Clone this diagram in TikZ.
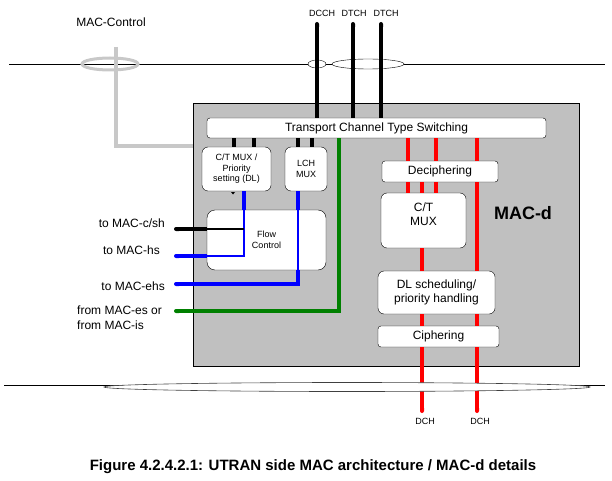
\documentclass[tikz,border=0pt]{standalone}
\usepackage{fontspec}
\setmainfont{Liberation Sans}
\usetikzlibrary{positioning,arrows.meta}
\definecolor{macgray}{RGB}{192,192,192}
\definecolor{ctrlgray}{RGB}{200,200,200}
\definecolor{macgreen}{RGB}{0,128,0}
\newcommand{\topy}{64}
\newcommand{\boty}{385}

\begin{document}
\begin{tikzpicture}[x=1pt,y=-1pt,
    box/.style={draw,fill=white,rounded corners=#1,inner sep=0pt,align=center,font=\fontsize{12}{14}\selectfont},
    sbox/.style={box=#1,font=\fontsize{9}{10.5}\selectfont},
    lbl/.style={inner sep=0pt,font=\fontsize{12}{15}\selectfont},
    slbl/.style={inner sep=0pt,font=\fontsize{9}{10}\selectfont},
    chan/.style={line width=4pt},
    fine/.style={line width=1.2pt}]
    \useasboundingbox (0,0) rectangle (612,481);
    \draw (9,\topy) -- (605,\topy);
    \draw (4,\boty) -- (605,\boty);

    \node[draw,fill=macgray,minimum width=386pt,minimum height=263pt,inner sep=0pt] (macd) at (386,234.5) {};
    \node[font=\fontsize{18}{20}\selectfont\bfseries] (macdlbl) at (523,213) {MAC-d};

    % control channel
    \node[lbl] (mctrl) at (111,22) {MAC-Control};
    \coordinate (ctrltop) at (116,47);
    \coordinate (ctrlbend) at (116,146);
    \draw[ctrlgray,line width=3pt] (110,\topy) ellipse (28pt and 6pt);
    \draw[ctrlgray,chan] (ctrltop) -- (ctrlbend) -- (ctrlbend -| macd.west);

    % logical channels
    \node[slbl] (dcch) at (322,13) {DCCH};
    \node[slbl] (dtcha) at (354,13) {DTCH};
    \node[slbl] (dtchb) at (386,13) {DTCH};
    \coordinate (dccht) at (317,22);
    \coordinate (dtchat) at (353,22);
    \coordinate (dtchbt) at (381,22);
    \draw[fill=white] (317,\topy) ellipse (9pt and 4pt);
    \draw[fill=white] (368,\topy) ellipse (36pt and 5pt);

    \node[box=3pt,minimum width=339pt,minimum height=20pt] (tcts) at (376.5,128) {Transport Channel Type Switching};
    \foreach \c in {dccht,dtchat,dtchbt}
    {
        \draw[chan,{Round Cap[]}-] (\c) -- (\c |- tcts.north);
    }

    % left part
    \node[sbox=6pt,minimum width=69pt,minimum height=44pt] (ctmuxdl) at (236.5,169) {C/T MUX /\\Priority\\setting (DL)};
    \node[sbox=6pt,minimum width=42pt,minimum height=44pt] (lchmux) at (306,169) {LCH\\MUX};
    \node[sbox=8pt,minimum width=119pt,minimum height=60pt] (flow) at (266.5,240) {Flow\\Control};
    \fill (231,192) -- (235,192) -- (233,194.5) -- cycle;
    \coordinate (sa) at (234,0);
    \coordinate (sb) at (254,0);
    \coordinate (sc) at (298,0);
    \coordinate (sd) at (312,0);
    \foreach \s/\b in {sa/ctmuxdl,sb/ctmuxdl,sc/lchmux,sd/lchmux}
    {
        \draw[chan] (\s |- tcts.south) -- (\s |- \b.north);
    }

    \node[lbl,anchor=east] (tocsh) at (165,223) {to MAC-c/sh};
    \node[lbl,anchor=east] (tohs) at (160,250) {to MAC-hs};
    \node[lbl,anchor=east] (toehs) at (165,286) {to MAC-ehs};
    \node[lbl,anchor=west,align=left] (fromes) at (77,317.5) {from MAC-es or\\from MAC-is};
    \coordinate (cshend) at (174,229);
    \coordinate (hsend) at (174,256);
    \coordinate (ehsend) at (174,284);
    \coordinate (esend) at (174,311);
    \coordinate (cshknee) at (244,229);
    \coordinate (hsknee) at (244,256);
    \coordinate (ehsknee) at (298,284);
    \coordinate (esknee) at (339,311);

    \draw[chan,blue] (hsknee |- ctmuxdl.south) -- (hsknee |- flow.north);
    \draw[fine,blue] (hsknee |- flow.north) -- (hsknee) -- (hsknee -| flow.west);
    \draw[chan,blue,-{Round Cap[]}] (hsknee -| flow.west) -- (hsend);
    \draw[fine] (cshknee) -- (cshknee -| flow.west);
    \draw[chan,-{Round Cap[]}] (cshknee -| flow.west) -- (cshend);
    \draw[chan,blue] (ehsknee |- lchmux.south) -- (ehsknee |- flow.north);
    \draw[fine,blue] (ehsknee |- flow.north) -- (ehsknee |- flow.south);
    \draw[chan,blue,-{Round Cap[]}] (ehsknee |- flow.south) -- (ehsknee) -- (ehsend);
    \draw[chan,macgreen,-{Round Cap[]}] (esknee |- tcts.south) -- (esknee) -- (esend);

    % right part
    \node[box=3pt,minimum width=116pt,minimum height=21pt] (deciph) at (440,171.5) {Deciphering};
    \node[box=6pt,minimum width=85pt,minimum height=55pt] (ctmux) at (423.5,220.5) {};
    \node[lbl,align=center,font=\fontsize{12}{14}\selectfont] (ctmuxtxt) at (423.5,214) {C/T\\MUX};
    \node[box=6pt,minimum width=117pt,minimum height=43pt] (dlsched) at (436.5,292.5) {DL scheduling/\\priority handling};
    \node[box=3pt,minimum width=121pt,minimum height=21pt] (ciph) at (438.5,336.5) {Ciphering};

    \coordinate (ra) at (408,0);
    \coordinate (rc) at (436,0);
    \coordinate (dchat) at (422,413);
    \coordinate (dchbt) at (477,413);
    \foreach \r in {ra,rc}
    {
        \draw[chan,red] (\r |- tcts.south) -- (\r |- deciph.north);
        \draw[chan,red] (\r |- deciph.south) -- (\r |- ctmux.north);
    }
    \draw[chan,red] (dchat |- deciph.south) -- (dchat |- ctmux.north);
    \draw[chan,red] (dchat |- ctmux.south) -- (dchat |- dlsched.north);
    \draw[chan,red] (dchat |- dlsched.south) -- (dchat |- ciph.north);
    \draw[chan,red,-{Round Cap[]}] (dchat |- ciph.south) -- (dchat);
    \draw[chan,red] (dchbt |- tcts.south) -- (dchbt |- deciph.north);
    \draw[chan,red] (dchbt |- deciph.south) -- (dchbt |- dlsched.north);
    \draw[chan,red] (dchbt |- dlsched.south) -- (dchbt |- ciph.north);
    \draw[chan,red,-{Round Cap[]}] (dchbt |- ciph.south) -- (dchbt);

    \draw[draw=black!75,line width=0.6pt,fill=white] (347,387) ellipse (243pt and 4.5pt);
    \node[slbl] (dcha) at (425,421) {DCH};
    \node[slbl] (dchb) at (480,421) {DCH};

    \node[font=\fontsize{15}{17}\selectfont\bfseries] (caption) at (313,467) {Figure 4.2.4.2.1: UTRAN side MAC architecture / MAC-d details};
\end{tikzpicture}
\end{document}
